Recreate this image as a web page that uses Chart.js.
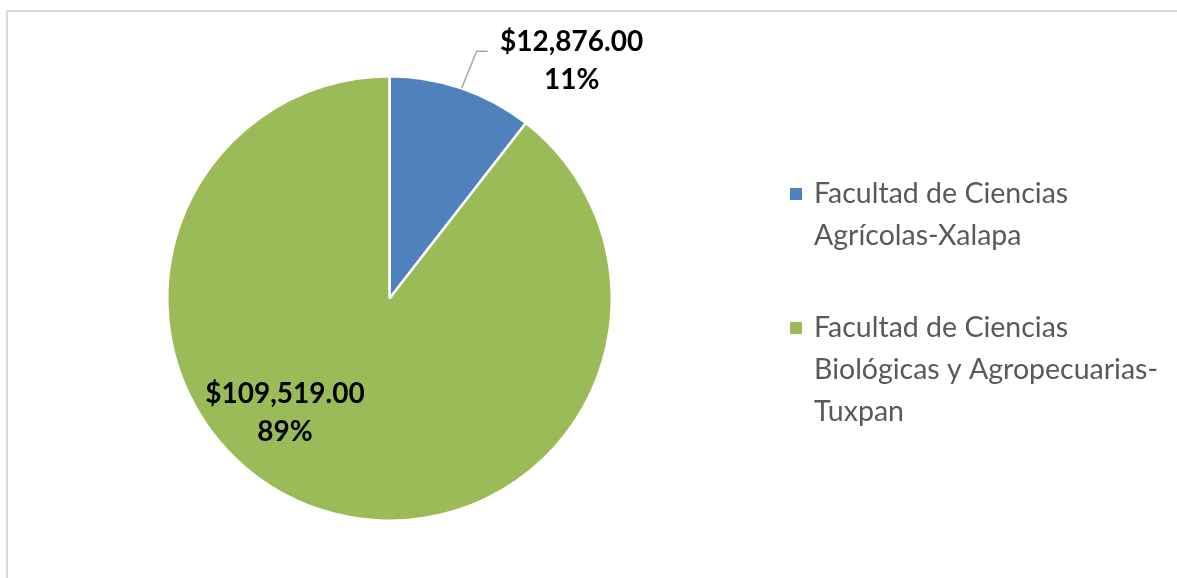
<!DOCTYPE html>
<html>
<head>
<meta charset="utf-8">
<script src="https://cdn.jsdelivr.net/npm/chart.js@4.4.0/dist/chart.umd.min.js"></script>
<style>
  html, body { margin: 0; padding: 0; background: #fff; }
  #wrap { position: relative; width: 1177px; height: 578px; overflow: hidden; }
  #frame { position: absolute; left: 6px; top: 10px; width: 1200px; height: 600px;
           border-left: 2px solid #d9d9d9; border-top: 2px solid #d9d9d9; }
  canvas { position: absolute; left: 0; top: 0; }
</style>
</head>
<body>
<div id="wrap">
  <div id="frame"></div>
  <canvas id="pieChart" width="1177" height="578"></canvas>
</div>
<script>
const categories = ['Facultad de Ciencias Agrícolas-Xalapa', 'Facultad de Ciencias Biológicas y Agropecuarias-Tuxpan'];
const amounts = [12876, 109519];
const sliceColors = ['#4f81bd', '#9bbb59'];

const labelFont = 'bold 28px Lato';
const legendFont = '28.5px Lato';

function fmtMoney(v) {
  return '$' + v.toLocaleString('en-US', { minimumFractionDigits: 2, maximumFractionDigits: 2 });
}

function wrapText(ctx, text, maxW) {
  const tokens = text.split(/(?<=[\s-])/);
  const lines = [];
  let cur = '';
  tokens.forEach(t => {
    const test = cur + t;
    if (cur && ctx.measureText(test.trim()).width > maxW) {
      lines.push(cur.trim());
      cur = t;
    } else {
      cur = test;
    }
  });
  if (cur) lines.push(cur.trim());
  return lines;
}

// value + percent labels, the small slice gets a leader line
const pieLabels = {
  id: 'pieLabels',
  afterDatasetsDraw(chart) {
    const ctx = chart.ctx;
    const meta = chart.getDatasetMeta(0);
    const total = amounts.reduce((a, b) => a + b, 0);
    meta.data.forEach((arc, i) => {
      const p = arc.getProps(['x', 'y', 'startAngle', 'endAngle', 'outerRadius'], true);
      const mid = (p.startAngle + p.endAngle) / 2;
      const lines = [fmtMoney(amounts[i]), Math.round(amounts[i] / total * 100) + '%'];
      let lx, ly;
      ctx.save();
      if (i === 0) {
        const x0 = p.x + Math.cos(mid) * p.outerRadius;
        const y0 = p.y + Math.sin(mid) * p.outerRadius;
        const x1 = x0 + 15, y1 = y0 - 37, x2 = x1 + 11;
        ctx.strokeStyle = '#a6a6a6';
        ctx.lineWidth = 1.5;
        ctx.beginPath();
        ctx.moveTo(x0, y0);
        ctx.lineTo(x1, y1);
        ctx.lineTo(x2, y1);
        ctx.stroke();
        lx = x2 + 84;
        ly = y1 + 10;
      } else {
        lx = p.x - 0.47 * p.outerRadius;
        ly = p.y + 0.516 * p.outerRadius;
      }
      ctx.font = labelFont;
      ctx.fillStyle = '#000';
      ctx.textAlign = 'center';
      ctx.textBaseline = 'middle';
      ctx.fillText(lines[0], lx, ly - 19);
      ctx.fillText(lines[1], lx, ly + 19);
      ctx.restore();
    });
  }
};

// legend on the right with wrapped labels
const sideLegend = {
  id: 'sideLegend',
  afterDraw(chart) {
    const ctx = chart.ctx;
    ctx.save();
    ctx.font = legendFont;
    ctx.textBaseline = 'middle';
    let y = 194;
    categories.forEach((cat, i) => {
      ctx.fillStyle = sliceColors[i];
      ctx.fillRect(790, y - 6, 12, 12);
      ctx.fillStyle = '#595959';
      const lines = wrapText(ctx, cat, 350);
      lines.forEach((ln, j) => ctx.fillText(ln, 814, y + j * 42));
      y += lines.length * 42 + 50;
    });
    ctx.restore();
  }
};

const ctx = document.getElementById('pieChart').getContext('2d');
new Chart(ctx, {
  type: 'pie',
  data: {
    labels: categories,
    datasets: [{
      data: amounts,
      backgroundColor: sliceColors,
      borderColor: '#ffffff',
      borderWidth: 2.5
    }]
  },
  options: {
    responsive: false,
    animation: false,
    layout: { padding: { left: 166, right: 564, top: 75, bottom: 56 } },
    plugins: {
      legend: { display: false },
      tooltip: { enabled: false }
    }
  },
  plugins: [pieLabels, sideLegend]
});
</script>
</body>
</html>
